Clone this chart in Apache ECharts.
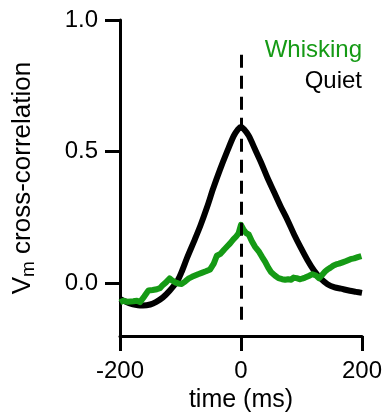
<!DOCTYPE html>
<html>
<head>
<meta charset="utf-8">
<script src="https://cdn.jsdelivr.net/npm/echarts@6/dist/echarts.min.js"></script>
<style>
html,body{margin:0;padding:0;background:#fff;}
#chart{width:385px;height:418px;}
</style>
</head>
<body>
<div id="chart"></div>
<script>
// Quiet (black) cross-correlation
const quietTime = [-200,-185,-170,-162,-150,-140,-129,-118,-105,-97,-89,-78,-67,-56,-46,-35,-23,-12,-5,0,5,13,23,33,43,54,65,77,88,99,110,121,132,143,155,165,180,190,200];
const quietVal  = [-0.059,-0.075,-0.083,-0.084,-0.080,-0.070,-0.053,-0.028,0.010,0.050,0.098,0.158,0.220,0.290,0.360,0.430,0.500,0.560,0.585,0.594,0.585,0.560,0.510,0.460,0.405,0.350,0.295,0.240,0.185,0.135,0.088,0.048,0.018,-0.003,-0.015,-0.020,-0.028,-0.032,-0.036];

// Whisking (green) cross-correlation
const whiskTime = [-200,-195,-187,-178,-172,-167,-160,-153,-146,-139,-134,-130,-124,-118,-113,-109,-104,-98,-92,-87,-81,-76,-71,-65,-58,-51,-45,-40,-34,-28,-23,-18,-13,-8,-4,0,4,8,13,18,23,29,35,40,45,50,56,62,68,73,78,83,87,92,97,101,106,112,118,124,129,134,139,143,148,153,157,162,168,174,181,187,193,199];
const whiskVal  = [-0.072,-0.066,-0.070,-0.068,-0.066,-0.071,-0.050,-0.027,-0.025,-0.022,-0.018,-0.008,0.004,0.019,0.010,0.004,0.000,-0.002,0.008,0.018,0.025,0.030,0.035,0.040,0.046,0.053,0.075,0.105,0.112,0.128,0.140,0.152,0.166,0.178,0.190,0.222,0.205,0.192,0.185,0.160,0.140,0.123,0.100,0.082,0.060,0.042,0.030,0.020,0.016,0.014,0.016,0.014,0.022,0.020,0.016,0.018,0.022,0.028,0.035,0.030,0.020,0.032,0.045,0.053,0.060,0.068,0.072,0.075,0.080,0.085,0.092,0.095,0.100,0.104];

// Zero-lag reference (dashed line) extent
const zeroLine = {time: 0, top: 0.868, bottom: -0.155};

// Axis ticks
const xTicks = [-200, 0, 200];
const yTicks = [0, 0.5, 1.0];

const labels = {
  y: 'V{sub|m} cross-correlation',
  x: 'time (ms)',
  whisk: 'Whisking',
  quiet: 'Quiet'
};

const green = '#159a15';
const FONT = '"Liberation Sans", Arial, sans-serif';

const zip = (a, b) => a.map((t, i) => [t, b[i]]);

const chart = echarts.init(document.getElementById('chart'), null, {renderer: 'canvas'});
chart.setOption({
  animation: false,
  backgroundColor: '#fff',
  grid: {left: 120, right: 23, top: 20, bottom: 78, containLabel: false},
  xAxis: {
    type: 'value', min: -200, max: 200, interval: 200,
    name: labels.x, nameLocation: 'middle', nameGap: 51,
    nameTextStyle: {fontFamily: FONT, fontSize: 25, color: '#000'},
    axisLine: {show: true, onZero: false, lineStyle: {color: '#000', width: 3}},
    axisTick: {show: true, length: 15, lineStyle: {color: '#000', width: 3}, customValues: xTicks},
    axisLabel: {fontFamily: FONT, fontSize: 24, color: '#000', margin: 23, customValues: xTicks},
    splitLine: {show: false}
  },
  yAxis: {
    type: 'value', min: -0.2, max: 1.0,
    name: labels.y, nameLocation: 'middle', nameGap: 82, nameRotate: 90,
    nameTextStyle: {fontFamily: FONT, fontSize: 26, color: '#000',
      rich: {sub: {fontFamily: FONT, fontSize: 19, color: '#000', verticalAlign: 'bottom', padding: [11, 0, 0, 0]}}},
    axisLine: {show: true, onZero: false, lineStyle: {color: '#000', width: 3}},
    axisTick: {show: true, length: 15, lineStyle: {color: '#000', width: 3}, customValues: yTicks},
    axisLabel: {fontFamily: FONT, fontSize: 24, color: '#000', margin: 22, customValues: yTicks,
      formatter: v => v.toFixed(1)},
    splitLine: {show: false}
  },
  series: [
    {
      name: labels.quiet, type: 'line', data: zip(quietTime, quietVal),
      showSymbol: false, smooth: 0.3, z: 3,
      lineStyle: {color: '#000', width: 6},
      markLine: {
        silent: true, symbol: 'none', label: {show: false},
        lineStyle: {color: '#000', width: 3, type: [13, 8]},
        data: [[{coord: [zeroLine.time, zeroLine.top]}, {coord: [zeroLine.time, zeroLine.bottom]}]]
      }
    },
    {
      name: labels.whisk, type: 'line', data: zip(whiskTime, whiskVal),
      showSymbol: false, z: 4,
      lineStyle: {color: green, width: 6, join: 'round'}
    }
  ],
  graphic: [
    {type: 'text', right: 23, top: 38, style: {text: labels.whisk, fill: green, font: '24px ' + FONT, textAlign: 'right'}},
    {type: 'text', right: 23, top: 69, style: {text: labels.quiet, fill: '#000', font: '24px ' + FONT, textAlign: 'right'}}
  ]
});
</script>
</body>
</html>
